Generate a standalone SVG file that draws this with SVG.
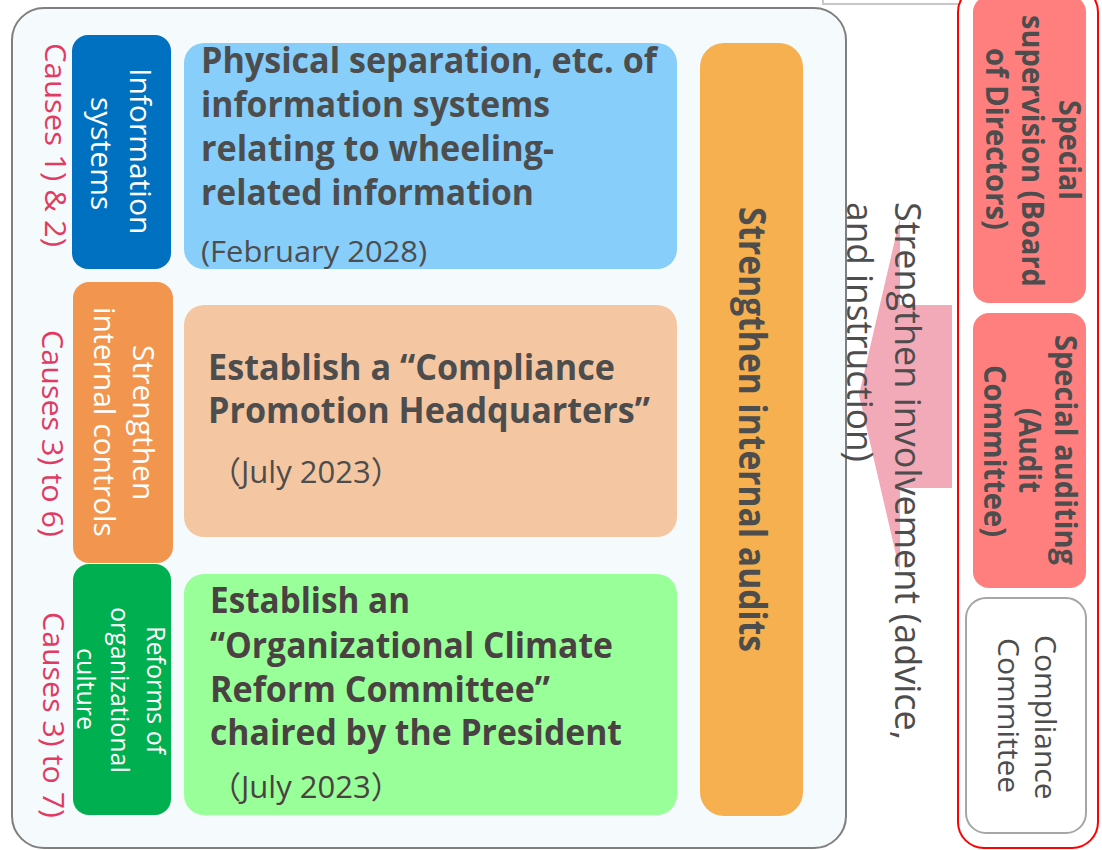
<svg xmlns="http://www.w3.org/2000/svg" width="1102" height="850" viewBox="0 0 1102 850">
  <style>
    text { font-family: "Open Sans", "Noto Sans", "Noto Sans CJK JP", sans-serif; }
    .b { font-weight: 700; }
    .dark { fill: #4D4D4D; }
    .white { fill: #FFFFFF; }
    .cause { fill: #E23A62; font-size: 30px; }
    .side { font-size: 30px; }
    .main { font-size: 35px; font-weight: 700; fill: #4D4D4D; }
    .date { font-size: 30px; fill: #4D4D4D; }
  </style>

  <rect width="1102" height="850" fill="#FFFFFF"/>

  <!-- partial box above the page edge -->
  <rect x="823" y="-30" width="151" height="34" fill="#FFFFFF" stroke="#C8C8C8" stroke-width="2"/>

  <!-- outer frame of measures -->
  <g id="measures-frame">
    <rect x="12" y="8" width="834" height="840" rx="32" fill="#F5FAFD" stroke="#7F7F7F" stroke-width="2"/>
  </g>

  <!-- governance frame -->
  <g id="governance-frame">
    <rect x="958" y="-14" width="140" height="862" rx="26" fill="#FFFFFF" stroke="#FF0000" stroke-width="2"/>
  </g>

  <!-- connectors -->
  <g id="connectors">
    <polygon points="859,395 900,218 900,305 952,305 952,488 900,488 900,572" fill="#F2AAB9"/>
    <text class="dark" transform="translate(895,202) rotate(90)" textLength="538" lengthAdjust="spacingAndGlyphs" style="font-size:37px">Strengthen involvement (advice,</text>
    <text class="dark" transform="translate(847,202) rotate(90)" textLength="260" lengthAdjust="spacingAndGlyphs" style="font-size:37px">and instruction)</text>
  </g>

  <!-- category: information systems -->
  <g id="cat-info">
    <rect x="72" y="35" width="99" height="234" rx="16" fill="#0070C0"/>
    <text class="side white" transform="translate(130,68) rotate(90)">Information</text>
    <text class="side white" transform="translate(91,97) rotate(90)">systems</text>
    <text class="cause" transform="translate(45,43) rotate(90)" textLength="204" lengthAdjust="spacingAndGlyphs">Causes 1) &amp; 2)</text>
  </g>

  <!-- category: internal controls -->
  <g id="cat-controls">
    <rect x="73" y="282" width="100" height="281" rx="16" fill="#F2964F"/>
    <text class="side white" transform="translate(133,345) rotate(90)">Strengthen</text>
    <text class="side white" transform="translate(94,307) rotate(90)">internal controls</text>
    <text class="cause" transform="translate(42,330) rotate(90)" textLength="207" lengthAdjust="spacingAndGlyphs">Causes 3) to 6)</text>
  </g>

  <!-- category: organizational culture -->
  <g id="cat-culture">
    <rect x="73" y="564" width="98" height="251" rx="16" fill="#00B050"/>
    <text class="white" font-size="25" transform="translate(147,626) rotate(90)">Reforms of</text>
    <text class="white" font-size="25" transform="translate(111,607) rotate(90)">organizational</text>
    <text class="white" font-size="25" transform="translate(77,648) rotate(90)">culture</text>
    <text class="cause" transform="translate(43,612) rotate(90)" textLength="206" lengthAdjust="spacingAndGlyphs">Causes 3) to 7)</text>
  </g>

  <!-- measure 1 -->
  <g id="measure-separation">
    <rect x="184" y="43" width="493" height="226" rx="20" fill="#87CEFA"/>
    <text class="main" x="201" y="73" textLength="456" lengthAdjust="spacingAndGlyphs">Physical separation, etc. of</text>
    <text class="main" x="201" y="117" textLength="349" lengthAdjust="spacingAndGlyphs">information systems</text>
    <text class="main" x="201" y="161" textLength="353" lengthAdjust="spacingAndGlyphs">relating to wheeling-</text>
    <text class="main" x="201" y="205" textLength="333" lengthAdjust="spacingAndGlyphs">related information</text>
    <text class="date" x="201" y="262" textLength="226" lengthAdjust="spacingAndGlyphs">(February 2028)</text>
  </g>

  <!-- measure 2 -->
  <g id="measure-compliance-hq">
    <rect x="184" y="305" width="493" height="232" rx="20" fill="#F4C7A2"/>
    <text class="main" x="208" y="380" textLength="407" lengthAdjust="spacingAndGlyphs">Establish a “Compliance</text>
    <text class="main" x="208" y="423" textLength="442" lengthAdjust="spacingAndGlyphs">Promotion Headquarters”</text>
    <text class="date" x="210" y="483" style="font-size:31px">（July 2023）</text>
  </g>

  <!-- measure 3 -->
  <g id="measure-climate-committee">
    <rect x="184" y="574" width="493" height="241" rx="20" fill="#99FF99"/>
    <text class="main" x="210" y="613" textLength="200" lengthAdjust="spacingAndGlyphs" style="fill:#4A4242">Establish an</text>
    <text class="main" x="210" y="658" textLength="403" lengthAdjust="spacingAndGlyphs" style="fill:#4A4242">“Organizational Climate</text>
    <text class="main" x="210" y="702" textLength="340" lengthAdjust="spacingAndGlyphs" style="fill:#4A4242">Reform Committee”</text>
    <text class="main" x="210" y="745" textLength="412" lengthAdjust="spacingAndGlyphs" style="fill:#4A4242">chaired by the President</text>
    <text class="date" x="210" y="798" style="fill:#4A4242;font-size:31px">（July 2023）</text>
  </g>

  <!-- internal audits -->
  <g id="internal-audits">
    <rect x="700" y="43" width="103" height="773" rx="24" fill="#F6B050"/>
    <text class="b dark" font-size="38" transform="translate(739,207) rotate(90)" textLength="445" lengthAdjust="spacingAndGlyphs">Strengthen internal audits</text>
  </g>

  <!-- board of directors -->
  <g id="board-supervision">
    <rect x="973" y="-4" width="113" height="307" rx="16" fill="#FF7F7F"/>
    <text class="b dark" font-size="30" transform="translate(1059,100) rotate(90)" textLength="100" lengthAdjust="spacingAndGlyphs">Special</text>
    <text class="b dark" font-size="30" transform="translate(1022,15) rotate(90)" textLength="272" lengthAdjust="spacingAndGlyphs">supervision (Board</text>
    <text class="b dark" font-size="30" transform="translate(986,48) rotate(90)" textLength="182" lengthAdjust="spacingAndGlyphs">of Directors)</text>
  </g>

  <!-- audit committee -->
  <g id="audit-committee">
    <rect x="973" y="313" width="113" height="275" rx="16" fill="#FF7F7F"/>
    <text class="b dark" font-size="30" transform="translate(1055,335) rotate(90)" textLength="230" lengthAdjust="spacingAndGlyphs">Special auditing</text>
    <text class="b dark" font-size="30" transform="translate(1019,408) rotate(90)" textLength="85" lengthAdjust="spacingAndGlyphs">(Audit</text>
    <text class="b dark" font-size="30" transform="translate(984,365) rotate(90)" textLength="172" lengthAdjust="spacingAndGlyphs">Committee)</text>
  </g>

  <!-- compliance committee -->
  <g id="compliance-committee">
    <rect x="966" y="598" width="120" height="235" rx="20" fill="#FFFFFF" stroke="#A6A6A6" stroke-width="2"/>
    <text class="side dark" transform="translate(1035,635) rotate(90)">Compliance</text>
    <text class="side dark" transform="translate(998,638) rotate(90)">Committee</text>
  </g>
</svg>
